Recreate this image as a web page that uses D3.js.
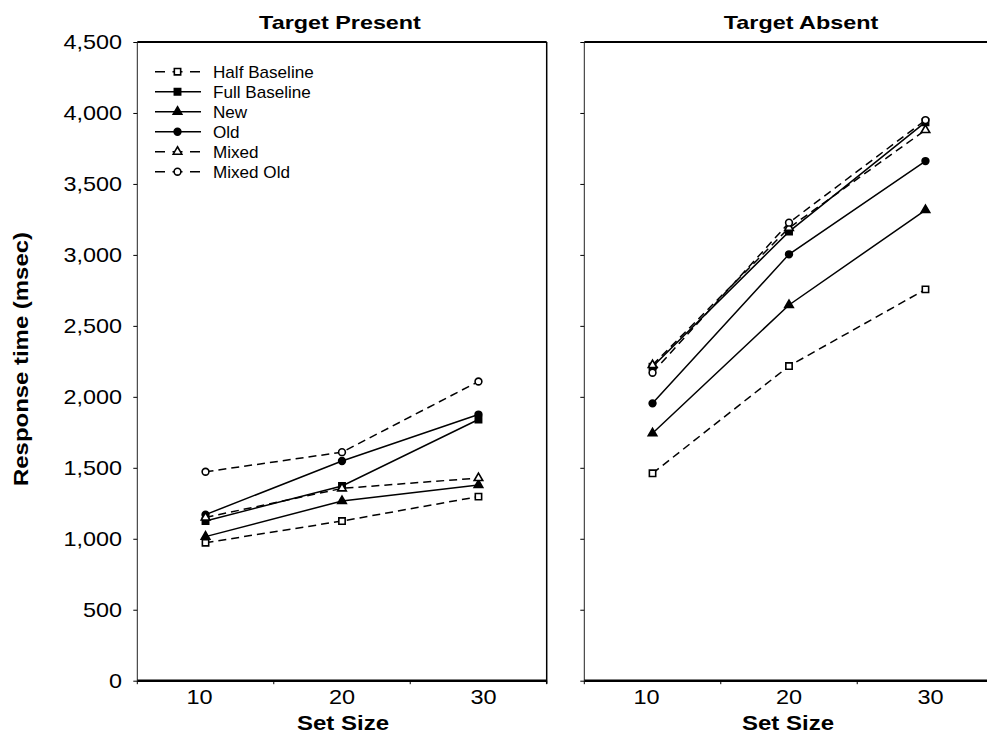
<!DOCTYPE html>
<html>
<head>
<meta charset="utf-8">
<script src="https://cdn.jsdelivr.net/npm/d3@7/dist/d3.min.js"></script>
<style>
  html, body { margin: 0; padding: 0; background: #fff; }
  svg { display: block; }
  text { font-family: "Liberation Sans", Arial, Helvetica, sans-serif; fill: #000; }
</style>
</head>
<body>
<svg id="chart" width="987" height="736"></svg>
<script>
// ---------------- DATA ----------------
const categories = ["10", "20", "30"];
const seriesNames = ["Half Baseline", "Full Baseline", "New", "Old", "Mixed", "Mixed Old"];
const panelTitles = ["Target Present", "Target Absent"];
const yTickValues = [0, 500, 1000, 1500, 2000, 2500, 3000, 3500, 4000, 4500];

// Target Present
const presentHalfBaseline = [972, 1125, 1297];
const presentFullBaseline = [1125, 1372, 1840];
const presentNew          = [1015, 1266, 1379];
const presentOld          = [1170, 1548, 1875];
const presentMixed        = [1150, 1355, 1428];
const presentMixedOld     = [1472, 1610, 2108];

// Target Absent
const absentHalfBaseline = [1461, 2217, 2757];
const absentFullBaseline = [2212, 3164, 3935];
const absentNew          = [1743, 2647, 3316];
const absentOld          = [1954, 3004, 3661];
const absentMixed        = [2224, 3190, 3880];
const absentMixedOld     = [2170, 3227, 3950];

// ---------------- STYLE ----------------
const seriesStyle = {
  "Half Baseline": { dash: true,  shape: "square",   filled: false },
  "Full Baseline": { dash: false, shape: "square",   filled: true  },
  "New":           { dash: false, shape: "triangle", filled: true  },
  "Old":           { dash: false, shape: "circle",   filled: true  },
  "Mixed":         { dash: true,  shape: "triangle", filled: false },
  "Mixed Old":     { dash: true,  shape: "circle",   filled: false }
};
const panelData = [
  [presentHalfBaseline, presentFullBaseline, presentNew, presentOld, presentMixed, presentMixedOld],
  [absentHalfBaseline, absentFullBaseline, absentNew, absentOld, absentMixed, absentMixedOld]
];

const svg = d3.select("#chart");
const yTop = 42, yBottom = 680.7;
const panels = [
  { left: 137.3, right: 546.7, rightBorder: true,  titleX: 340, labelX: 343 },
  { left: 584.3, right: 993.7, rightBorder: false, titleX: 801, labelX: 788 }
];
const labelDx = [-6, 0, 5];

const y = d3.scaleLinear().domain([0, 4500]).range([yBottom, yTop]);

function stext(parent, x, y, str, size, weight, sx, anchor, extra) {
  return parent.append("text")
    .attr("transform", `translate(${x},${y})${extra || ""} scale(${sx},1)`)
    .attr("text-anchor", anchor || "middle")
    .style("font-size", size + "px")
    .style("font-weight", weight || "normal")
    .text(str);
}

function symbolPath(shape) {
  const t = shape === "square" ? d3.symbolSquare : shape === "triangle" ? d3.symbolTriangle : d3.symbolCircle;
  const size = shape === "square" ? 40 : shape === "triangle" ? 32 : 36;
  return d3.symbol().type(t).size(size)();
}

function drawMarker(g, cx, cy, st) {
  g.append("path")
    .attr("d", symbolPath(st.shape))
    .attr("transform", `translate(${cx},${cy})`)
    .attr("fill", st.filled ? "#000" : "#fff")
    .attr("stroke", "#000")
    .attr("stroke-width", 1.6);
}

panels.forEach((p, pi) => {
  const x = d3.scaleBand().domain(categories).range([p.left, p.right]).padding(0);
  const g = svg.append("g");

  // Title
  stext(g, p.titleX, 29, panelTitles[pi], 19, "bold", 1.23);

  // Y axis
  const yAxis = d3.axisLeft(y).tickValues(yTickValues).tickSize(4)
    .tickFormat(pi === 0 ? d3.format(",") : () => "");
  const ya = g.append("g").attr("transform", `translate(${p.left},0)`).call(yAxis);
  ya.select(".domain").remove();
  ya.selectAll(".tick line").attr("stroke", "#000").attr("stroke-width", 1);
  ya.selectAll(".tick text").remove();
  if (pi === 0) {
    yTickValues.forEach(v => {
      stext(g, 122, y(v) + 7, d3.format(",")(v), 20, "normal", 1.17, "end");
    });
  }
  g.append("line").attr("x1", p.left).attr("x2", p.left).attr("y1", yTop).attr("y2", yBottom)
    .attr("stroke", "#222").attr("stroke-width", 1);

  // Top border
  g.append("line").attr("x1", p.left).attr("x2", p.right).attr("y1", yTop).attr("y2", yTop)
    .attr("stroke", "#000").attr("stroke-width", 2);
  // Right border
  if (p.rightBorder) {
    g.append("line").attr("x1", p.right).attr("x2", p.right).attr("y1", yTop).attr("y2", yBottom + 3)
      .attr("stroke", "#000").attr("stroke-width", 1.5);
  }

  // X axis: thick line, ticks at band boundaries, labels at band centers
  g.append("line").attr("x1", p.left).attr("x2", p.right).attr("y1", yBottom).attr("y2", yBottom)
    .attr("stroke", "#000").attr("stroke-width", 2.5);
  const bounds = categories.map(c => x(c)).concat([x.range()[1]]);
  bounds.forEach(b => {
    g.append("line").attr("x1", b).attr("x2", b).attr("y1", yBottom).attr("y2", yBottom + 3.5)
      .attr("stroke", "#000").attr("stroke-width", 1);
  });
  categories.forEach((c, i) => {
    stext(g, x(c) + x.bandwidth() / 2 + labelDx[i], 704, c, 21, "normal", 1.12);
  });
  stext(g, p.labelX, 730, "Set Size", 20, "bold", 1.2);

  // Series
  const line = d3.line()
    .x((d, i) => x(categories[i]) + x.bandwidth() / 2)
    .y(d => y(d));
  seriesNames.forEach((name, si) => {
    const st = seriesStyle[name];
    const vals = panelData[pi][si];
    g.append("path").datum(vals)
      .attr("d", line)
      .attr("fill", "none")
      .attr("stroke", "#000")
      .attr("stroke-width", 1.5)
      .attr("stroke-dasharray", st.dash ? "8,5" : null);
  });
  seriesNames.forEach((name, si) => {
    const st = seriesStyle[name];
    const vals = panelData[pi][si];
    vals.forEach((v, i) => drawMarker(g, x(categories[i]) + x.bandwidth() / 2, y(v), st));
  });
});

// Y label
stext(svg, 28, 359, "Response time (msec)", 21, "bold", 1.14, "middle", " rotate(-90)");

// Legend
const legend = svg.append("g");
seriesNames.forEach((name, i) => {
  const st = seriesStyle[name];
  const ly = 71.7 + i * 20;
  legend.append("line").attr("x1", 155).attr("x2", 201).attr("y1", ly).attr("y2", ly)
    .attr("stroke", "#000").attr("stroke-width", 1.6)
    .attr("stroke-dasharray", st.dash ? "10,7.5" : null);
  drawMarker(legend, 177.5, ly, st);
  stext(legend, 213, ly + 6, name, 16, "normal", 1.07, "start");
});
</script>
</body>
</html>
